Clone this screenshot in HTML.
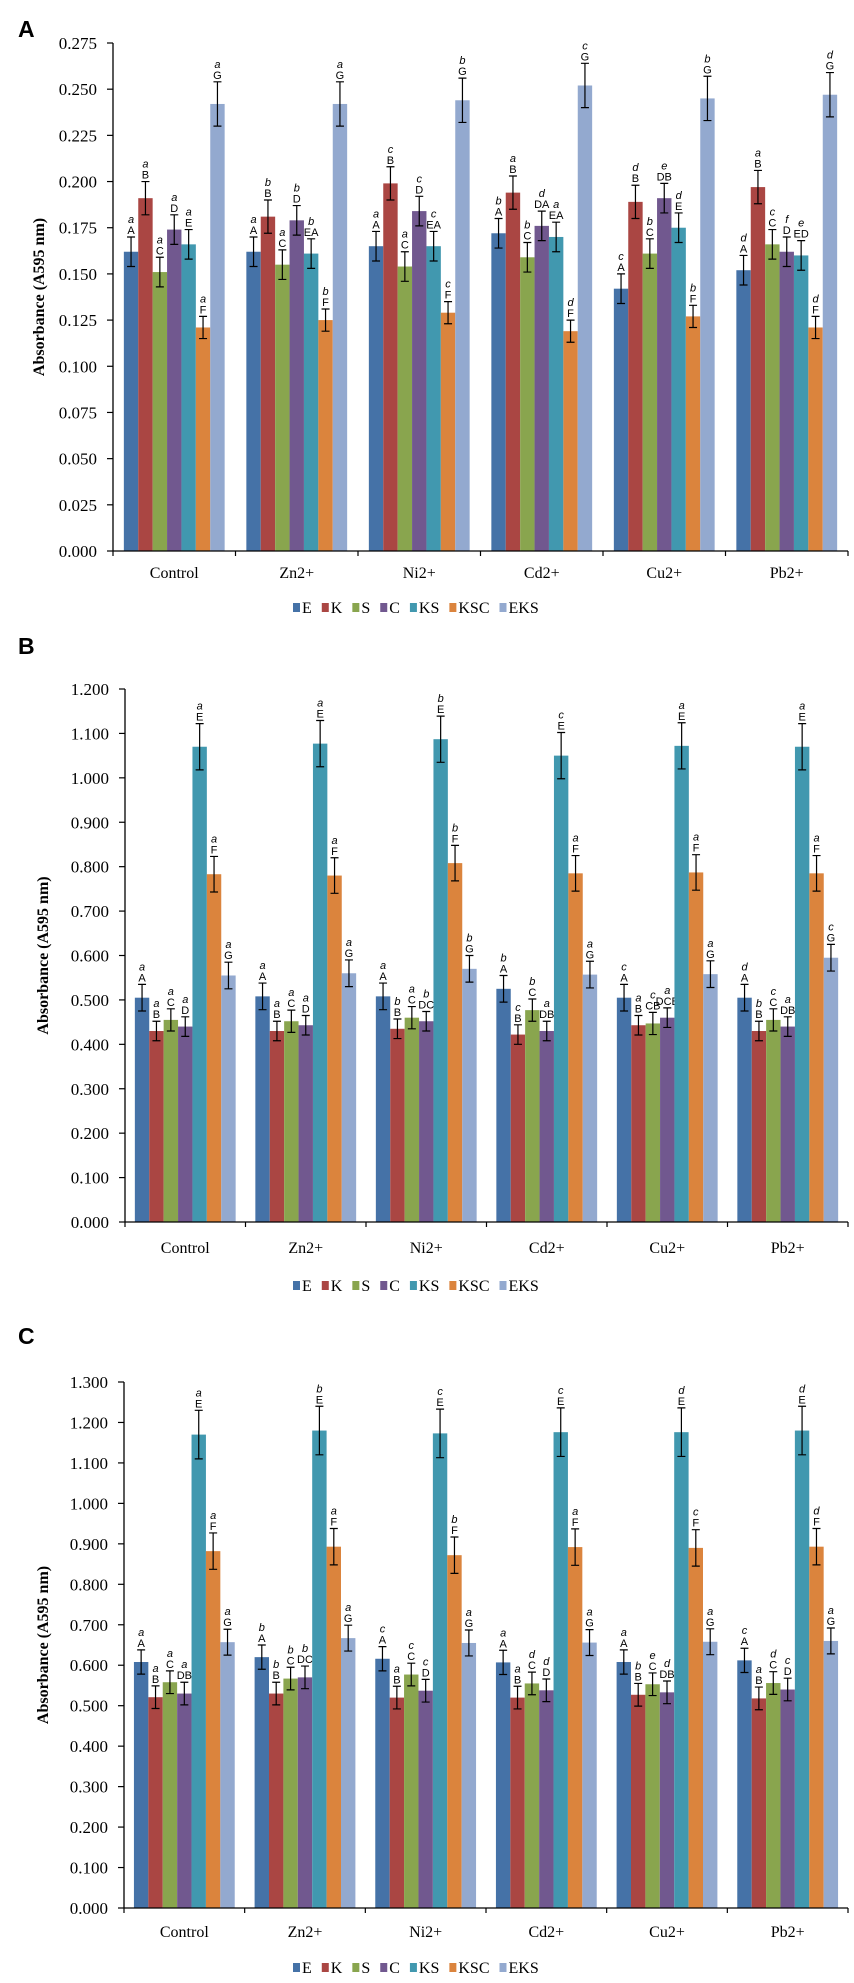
<!DOCTYPE html>
<html><head><meta charset="utf-8">
<style>
html,body{margin:0;padding:0;background:#fff;}
svg{display:block;}
</style></head>
<body>
<svg id="fig" width="854" height="1983" viewBox="0 0 854 1983" xmlns="http://www.w3.org/2000/svg"></svg>
<script>
const categories = ["Control","Zn2+","Ni2+","Cd2+","Cu2+","Pb2+"];
const seriesNames = ["E","K","S","C","KS","KSC","EKS"];
const seriesColors = ["#4572a7","#aa4643","#89a54e","#71588f","#4198af","#db843d","#93a9cf"];

const valuesA = [
 [0.162,0.191,0.151,0.174,0.166,0.121,0.242],
 [0.162,0.181,0.155,0.179,0.161,0.125,0.242],
 [0.165,0.199,0.154,0.184,0.165,0.129,0.244],
 [0.172,0.194,0.159,0.176,0.170,0.119,0.252],
 [0.142,0.189,0.161,0.191,0.175,0.127,0.245],
 [0.152,0.197,0.166,0.162,0.160,0.121,0.247]];
const errorsA = [0.008,0.009,0.008,0.008,0.008,0.006,0.012];
const lowerA = [["a","a","a","a","a","a","a"],["a","b","a","b","b","b","a"],["a","c","a","c","c","c","b"],["b","a","b","d","a","d","c"],["c","d","b","e","d","b","b"],["d","a","c","f","e","d","d"]];
const upperA = [["A","B","C","D","E","F","G"],["A","B","C","D","EA","F","G"],["A","B","C","D","EA","F","G"],["A","B","C","DA","EA","F","G"],["A","B","C","DB","E","F","G"],["A","B","C","D","ED","F","G"]];
const ticksA = ["0.000","0.025","0.050","0.075","0.100","0.125","0.150","0.175","0.200","0.225","0.250","0.275"];

const valuesB = [
 [0.505,0.430,0.455,0.440,1.070,0.783,0.555],
 [0.508,0.430,0.452,0.443,1.077,0.780,0.560],
 [0.508,0.435,0.460,0.452,1.087,0.808,0.570],
 [0.525,0.422,0.477,0.430,1.050,0.785,0.557],
 [0.505,0.443,0.447,0.460,1.072,0.787,0.558],
 [0.505,0.430,0.455,0.440,1.070,0.785,0.595]];
const errorsB = [0.030,0.022,0.025,0.022,0.052,0.040,0.030];
const lowerB = [["a","a","a","a","a","a","a"],["a","a","a","a","a","a","a"],["a","b","a","b","b","b","b"],["b","c","b","a","c","a","a"],["c","a","c","a","a","a","a"],["d","b","c","a","a","a","c"]];
const upperB = [["A","B","C","D","E","F","G"],["A","B","C","D","E","F","G"],["A","B","C","DC","E","F","G"],["A","B","C","DB","E","F","G"],["A","B","CB","DCB","E","F","G"],["A","B","C","DB","E","F","G"]];
const ticksB = ["0.000","0.100","0.200","0.300","0.400","0.500","0.600","0.700","0.800","0.900","1.000","1.100","1.200"];

const valuesC = [
 [0.608,0.521,0.558,0.530,1.170,0.882,0.657],
 [0.620,0.530,0.567,0.570,1.180,0.893,0.667],
 [0.616,0.520,0.577,0.537,1.173,0.872,0.655],
 [0.607,0.520,0.555,0.538,1.176,0.892,0.656],
 [0.608,0.527,0.553,0.533,1.176,0.890,0.658],
 [0.612,0.518,0.556,0.540,1.180,0.893,0.660]];
const errorsC = [0.030,0.028,0.028,0.028,0.060,0.045,0.032];
const lowerC = [["a","a","a","a","a","a","a"],["b","b","b","b","b","a","a"],["c","a","c","c","c","b","a"],["a","a","d","d","c","a","a"],["a","b","e","d","d","c","a"],["c","a","d","c","d","d","a"]];
const upperC = [["A","B","C","DB","E","F","G"],["A","B","C","DC","E","F","G"],["A","B","C","D","E","F","G"],["A","B","C","D","E","F","G"],["A","B","C","DB","E","F","G"],["A","B","C","D","E","F","G"]];
const ticksC = ["0.000","0.100","0.200","0.300","0.400","0.500","0.600","0.700","0.800","0.900","1.000","1.100","1.200","1.300"];

const NS = "http://www.w3.org/2000/svg";
const svg = document.getElementById("fig");
function mk(tag, attrs, parent, text){
  const e = document.createElementNS(NS, tag);
  for (const k in attrs) e.setAttribute(k, attrs[k]);
  if (text !== undefined) e.textContent = text;
  (parent || svg).appendChild(e);
  return e;
}

function panel(cfg){
  const g = mk("g", {});
  
  
  const L = mk("text", {x:18, y:cfg.letterY, "font-family":"Liberation Sans, sans-serif", "font-size":23, "font-weight":"bold"}, g, cfg.letter);
  
  
  const x0 = cfg.x0, x1 = 848, y0 = cfg.y0, yTop = cfg.yTop, max = cfg.max;
  const y = v => y0 - (v / max) * (y0 - yTop);
  const gw = (x1 - x0) / categories.length;
  const bw = 14.4;
  const ax = mk("line", {x1:x0, y1:yTop, x2:x0, y2:y0, stroke:"#000", "stroke-width":1.3}, g);
  
  
  cfg.ticks.forEach((t) => {
    const v = parseFloat(t);
    const tk = mk("line", {x1:x0-6, y1:y(v), x2:x0, y2:y(v), stroke:"#000", "stroke-width":1.2}, g);
    
    
    const tl = mk("text", {x:x0-16, y:y(v)+6, "text-anchor":"end", "font-family":"Liberation Serif, serif", "font-size":17}, g, t);
    
    
  });
  const midY = (y0 + yTop) / 2;
  const yt = mk("text", {x:0, y:0, transform:`translate(${cfg.titleX},${midY}) rotate(-90)`, "text-anchor":"middle", "font-family":"Liberation Serif, serif", "font-size":16, "font-weight":"bold"}, g, "Absorbance (A595 nm)");
  
  
  cfg.values.forEach((row, ci) => {
    const gx = x0 + ci * gw + (gw - bw * 7) / 2;
    row.forEach((v, si) => {
      const bx = gx + si * bw;
      const r = mk("rect", {x:bx, y:y(v), width:bw, height:y0 - y(v), fill:seriesColors[si]}, g);
      
      
      const e = cfg.errors[si];
      const cx = bx + bw / 2;
      const eb = mk("path", {d:`M${cx},${y(v+e)}V${y(v-e)}M${cx-4},${y(v+e)}H${cx+4}M${cx-4},${y(v-e)}H${cx+4}`, stroke:"#000", "stroke-width":1.2, fill:"none"}, g);
      
      
      const ty = y(v + e);
      const u = mk("text", {x:cx, y:ty - 3, "text-anchor":"middle", "font-family":"Liberation Sans, sans-serif", "font-size":11}, g, cfg.upper[ci][si]);
      
      
      const lw = mk("text", {x:cx, y:ty - 14, "text-anchor":"middle", "font-family":"Liberation Sans, sans-serif", "font-size":11, "font-style":"italic"}, g, cfg.lower[ci][si]);
      
      
    });
  });
  const xa = mk("line", {x1:x0, y1:y0, x2:x1, y2:y0, stroke:"#000", "stroke-width":1.3}, g);
  
  
  for (let i = 0; i <= categories.length; i++) {
    const tk = mk("line", {x1:x0 + i*gw, y1:y0, x2:x0 + i*gw, y2:y0+5, stroke:"#000", "stroke-width":1.2}, g);
    
    
  }
  categories.forEach((c, i) => {
    const t = mk("text", {x:x0 + (i+0.5)*gw, y:cfg.labelY, "text-anchor":"middle", "font-family":"Liberation Serif, serif", "font-size":16}, g, c);
    
    
  });
  const lg = mk("g", {}, g);
  
  
  let lx = 293;
  seriesNames.forEach((n, si) => {
    const s = mk("rect", {x:lx, y:cfg.legendY - 5, width:7, height:9, fill:seriesColors[si]}, lg);
    
    
    const t = mk("text", {x:lx + 9, y:cfg.legendY + 5, "font-family":"Liberation Serif, serif", "font-size":16}, lg, n);
    
    
    lx += 9 + t.getComputedTextLength() + 10;
  });
}

panel({letter:"A", letterY:37, x0:113, y0:551, yTop:43, max:0.275, ticks:ticksA, values:valuesA, errors:errorsA, lower:lowerA, upper:upperA, titleX:44, labelY:578, legendY:608});
panel({letter:"B", letterY:654, x0:125, y0:1222, yTop:689, max:1.2, ticks:ticksB, values:valuesB, errors:errorsB, lower:lowerB, upper:upperB, titleX:48, labelY:1253, legendY:1286});
panel({letter:"C", letterY:1344, x0:124, y0:1908, yTop:1382, max:1.3, ticks:ticksC, values:valuesC, errors:errorsC, lower:lowerC, upper:upperC, titleX:48, labelY:1937, legendY:1968});
</script>
</body></html>
